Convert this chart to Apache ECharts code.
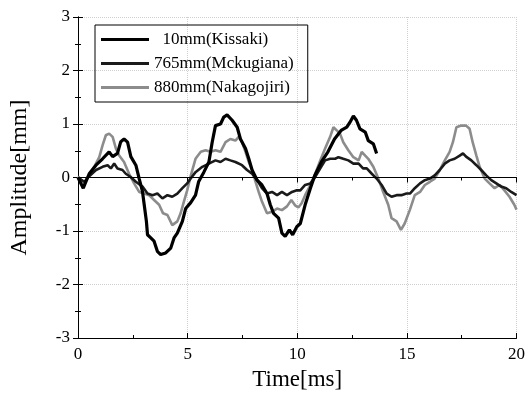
<!DOCTYPE html>
<html>
<head>
<meta charset="utf-8">
<script src="https://cdn.jsdelivr.net/npm/echarts@6/dist/echarts.min.js"></script>
<style>
  html, body { margin: 0; padding: 0; background: #fff; }
  #chart { width: 528px; height: 396px; }
</style>
</head>
<body>
<div id="chart"></div>
<script>
// series names as printed in the legend
var seriesNames = ['10mm(Kissaki)', '765mm(Mckugiana)', '880mm(Nakagojiri)']

// 10mm (Kissaki) - stops at ~13.6 ms
var kissakiTime = [0, 0.24, 0.51, 0.82, 1.12, 1.42, 1.58, 1.8, 1.95, 2.1, 2.26, 2.41, 2.64, 2.79, 2.94, 3.02, 3.12, 3.17, 3.32, 3.47, 3.62, 3.77, 4.0, 4.23, 4.38, 4.53, 4.76, 4.91, 5.14, 5.36, 5.5, 5.74, 5.97, 6.12, 6.27, 6.5, 6.65, 6.8, 7.03, 7.26, 7.41, 7.64, 7.79, 7.94, 8.17, 8.39, 8.62, 8.77, 8.92, 9.15, 9.3, 9.45, 9.64, 9.79, 9.98, 10.14, 10.36, 10.6, 10.8, 11.1, 11.4, 11.7, 12.0, 12.26, 12.4, 12.56, 12.7, 12.86, 13.1, 13.24, 13.47, 13.62]
var kissakiAmp = [0, -0.2, 0.07, 0.23, 0.35, 0.48, 0.39, 0.45, 0.67, 0.72, 0.66, 0.39, 0.23, -0.02, -0.26, -0.51, -0.82, -1.07, -1.13, -1.19, -1.38, -1.44, -1.41, -1.32, -1.13, -1.04, -0.82, -0.58, -0.47, -0.33, -0.08, 0.1, 0.29, 0.66, 0.97, 1.0, 1.13, 1.17, 1.07, 0.94, 0.72, 0.54, 0.35, 0.14, -0.05, -0.14, -0.3, -0.51, -0.67, -0.76, -1.04, -1.1, -0.98, -1.07, -0.92, -0.86, -0.51, -0.2, 0.04, 0.29, 0.48, 0.72, 0.88, 0.94, 1.03, 1.15, 1.07, 0.91, 0.85, 0.69, 0.63, 0.45]

// 765mm (Mekugiana)
var mekugianaTime = [0, 0.29, 0.5, 0.82, 1.12, 1.35, 1.5, 1.65, 1.8, 2.03, 2.18, 2.4, 2.64, 2.94, 3.17, 3.4, 3.62, 3.85, 4.08, 4.3, 4.53, 4.76, 4.98, 5.14, 5.36, 5.67, 5.97, 6.27, 6.5, 6.73, 6.95, 7.18, 7.48, 7.71, 7.94, 8.17, 8.39, 8.62, 8.85, 9.08, 9.3, 9.53, 9.76, 9.98, 10.14, 10.36, 10.6, 10.82, 11.05, 11.27, 11.5, 11.73, 11.88, 12.1, 12.33, 12.56, 12.8, 13.0, 13.17, 13.4, 13.62, 13.85, 14.08, 14.3, 14.53, 14.75, 14.98, 15.14, 15.36, 15.6, 15.82, 16.05, 16.27, 16.5, 16.73, 16.95, 17.18, 17.41, 17.56, 17.7, 17.94, 18.17, 18.39, 18.62, 18.85, 19.08, 19.3, 19.53, 19.76, 20]
var mekugianaAmp = [0, -0.08, 0.02, 0.14, 0.2, 0.23, 0.17, 0.26, 0.17, 0.14, 0.07, 0.01, -0.08, -0.17, -0.3, -0.33, -0.3, -0.39, -0.33, -0.36, -0.3, -0.2, -0.11, -0.02, 0.1, 0.2, 0.26, 0.32, 0.29, 0.35, 0.32, 0.29, 0.23, 0.14, 0.07, -0.05, -0.2, -0.3, -0.27, -0.33, -0.27, -0.33, -0.27, -0.24, -0.24, -0.14, -0.11, 0.01, 0.17, 0.32, 0.35, 0.35, 0.38, 0.35, 0.32, 0.26, 0.26, 0.17, 0.17, 0.07, -0.02, -0.14, -0.3, -0.36, -0.33, -0.33, -0.3, -0.3, -0.2, -0.11, -0.05, -0.02, 0.04, 0.14, 0.26, 0.32, 0.35, 0.41, 0.45, 0.39, 0.32, 0.23, 0.14, 0.04, -0.05, -0.11, -0.17, -0.2, -0.27, -0.33]

// 880mm (Nakagojiri)
var nakagojiriTime = [0, 0.29, 0.5, 0.74, 0.97, 1.12, 1.27, 1.42, 1.58, 1.73, 1.88, 2.1, 2.33, 2.56, 2.79, 3.02, 3.24, 3.47, 3.7, 3.88, 4.08, 4.3, 4.53, 4.68, 4.83, 4.98, 5.14, 5.36, 5.6, 5.82, 6.05, 6.27, 6.5, 6.73, 6.95, 7.18, 7.33, 7.48, 7.64, 7.79, 7.94, 8.1, 8.24, 8.39, 8.62, 8.85, 9.08, 9.3, 9.53, 9.73, 9.9, 10.05, 10.2, 10.36, 10.6, 10.82, 11.05, 11.27, 11.5, 11.65, 11.8, 11.95, 12.1, 12.33, 12.56, 12.8, 12.94, 13.1, 13.24, 13.47, 13.7, 13.92, 14.15, 14.3, 14.53, 14.73, 14.9, 15.14, 15.36, 15.6, 15.82, 16.05, 16.27, 16.5, 16.73, 16.95, 17.1, 17.26, 17.48, 17.7, 17.86, 18.0, 18.17, 18.32, 18.55, 18.77, 19.0, 19.23, 19.45, 19.68, 19.9, 20]
var nakagojiriAmp = [0.02, -0.11, 0.04, 0.2, 0.38, 0.6, 0.79, 0.82, 0.76, 0.54, 0.41, 0.29, 0.07, -0.11, -0.27, -0.3, -0.33, -0.42, -0.51, -0.67, -0.7, -0.89, -0.82, -0.67, -0.45, -0.24, 0.03, 0.35, 0.48, 0.51, 0.48, 0.51, 0.48, 0.66, 0.72, 0.69, 0.76, 0.66, 0.48, 0.29, 0.14, -0.08, -0.27, -0.45, -0.67, -0.64, -0.58, -0.61, -0.54, -0.42, -0.52, -0.56, -0.48, -0.33, -0.14, 0.07, 0.32, 0.54, 0.76, 0.94, 0.88, 0.82, 0.66, 0.51, 0.38, 0.32, 0.48, 0.41, 0.35, 0.2, -0.02, -0.27, -0.51, -0.76, -0.82, -0.98, -0.86, -0.6, -0.33, -0.27, -0.14, -0.08, -0.02, 0.14, 0.32, 0.48, 0.66, 0.94, 0.97, 0.97, 0.91, 0.66, 0.41, 0.2, -0.02, -0.11, -0.2, -0.14, -0.24, -0.36, -0.51, -0.6]

// axis ticks
var xTicks = [0, 5, 10, 15, 20]
var yTicks = [-3, -2, -1, 0, 1, 2, 3]

function pairs(ts, vs) {
  return ts.map(function (t, i) { return [t, vs[i]] })
}

var font = 'Liberation Serif'
var chart = echarts.init(document.getElementById('chart'))

var frameAxis = {
  show: true,
  axisLine: { show: true, lineStyle: { color: '#000', width: 1 } },
  axisTick: { show: true, inside: true, length: 5, lineStyle: { color: '#000' } },
  minorTick: { show: true, splitNumber: 2, length: 3, lineStyle: { color: '#000' } },
  axisLabel: { show: false },
  splitLine: { show: false },
}

chart.setOption({
  animation: false,
  backgroundColor: '#fff',
  textStyle: { fontFamily: font },
  grid: { left: 77, right: 11, top: 17, bottom: 56 },
  legend: {
    orient: 'vertical',
    left: 95,
    top: 25,
    padding: [6, 14, 6, 6],
    borderColor: '#000',
    borderWidth: 1,
    icon: 'rect',
    itemWidth: 48,
    itemHeight: 3,
    itemGap: 7,
    textStyle: { fontFamily: font, fontSize: 17, color: '#000' },
    formatter: function (name) {
      return name === seriesNames[0] ? '  ' + name : name
    },
    data: seriesNames,
  },
  xAxis: [
    {
      type: 'value',
      min: xTicks[0],
      max: xTicks[xTicks.length - 1],
      interval: 5,
      name: 'Time[ms]',
      nameLocation: 'middle',
      nameGap: 30,
      nameTextStyle: { fontFamily: font, fontSize: 23, color: '#000' },
      axisLine: { show: true, onZero: false, lineStyle: { color: '#000', width: 1 } },
      axisTick: { show: true, inside: true, length: 5, lineStyle: { color: '#000' } },
      minorTick: { show: true, splitNumber: 2, length: 3, lineStyle: { color: '#000' } },
      axisLabel: { fontFamily: font, fontSize: 17, color: '#000', margin: 8 },
      splitLine: { show: true, lineStyle: { color: '#d0d0d0', type: 'dotted', width: 1 } },
    },
    Object.assign({ type: 'value', position: 'top', min: 0, max: 20, interval: 5 }, frameAxis),
  ],
  yAxis: [
    {
      type: 'value',
      min: yTicks[0],
      max: yTicks[yTicks.length - 1],
      interval: 1,
      name: 'Amplitude[mm]',
      nameLocation: 'middle',
      nameGap: 46,
      nameTextStyle: { fontFamily: font, fontSize: 24, color: '#000' },
      axisLine: { show: true, onZero: false, lineStyle: { color: '#000', width: 1 } },
      axisTick: { show: true, inside: true, length: 5, lineStyle: { color: '#000' } },
      minorTick: { show: true, splitNumber: 2, length: 3, lineStyle: { color: '#000' } },
      axisLabel: { fontFamily: font, fontSize: 17, color: '#000', margin: 8 },
      splitLine: { show: true, lineStyle: { color: '#d0d0d0', type: 'dotted', width: 1 } },
    },
    Object.assign({ type: 'value', position: 'right', min: -3, max: 3, interval: 1 }, frameAxis),
  ],
  series: [
    {
      name: seriesNames[0],
      type: 'line',
      symbol: 'none',
      data: pairs(kissakiTime, kissakiAmp),
      lineStyle: { color: '#000', width: 3.2 },
      itemStyle: { color: '#000' },
      z: 4,
    },
    {
      name: seriesNames[1],
      type: 'line',
      symbol: 'none',
      data: pairs(mekugianaTime, mekugianaAmp),
      lineStyle: { color: '#1a1a1a', width: 2.6 },
      itemStyle: { color: '#1a1a1a' },
      z: 3,
      // horizontal zero line
      markLine: {
        silent: true,
        symbol: 'none',
        label: { show: false },
        lineStyle: { color: '#000', width: 1, type: 'solid' },
        data: [{ yAxis: 0 }],
      },
    },
    {
      name: seriesNames[2],
      type: 'line',
      symbol: 'none',
      data: pairs(nakagojiriTime, nakagojiriAmp),
      lineStyle: { color: '#8c8c8c', width: 2.6 },
      itemStyle: { color: '#8c8c8c' },
      z: 2,
    },
  ],
})
</script>
</body>
</html>
